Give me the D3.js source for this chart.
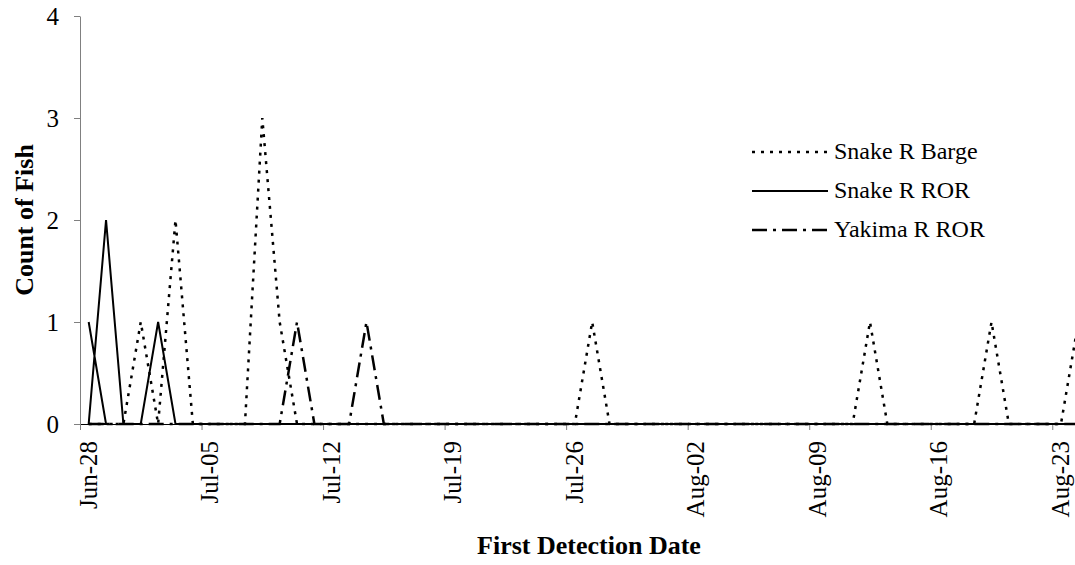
<!DOCTYPE html>
<html>
<head>
<meta charset="utf-8">
<script src="https://cdn.jsdelivr.net/npm/d3@7"></script>
<style>
  html, body { margin: 0; padding: 0; background: #fff; }
  svg { display: block; }
</style>
</head>
<body>
<div class="chart"></div>
<script>
// first detection counts per day (only the days where a line turns)
const bargeDates  = ['Jun-28', 'Jun-30', 'Jul-01', 'Jul-02', 'Jul-03', 'Jul-04', 'Jul-07', 'Jul-08', 'Jul-09', 'Jul-10',
                     'Jul-26', 'Jul-27', 'Jul-28', 'Aug-11', 'Aug-12', 'Aug-13', 'Aug-18', 'Aug-19', 'Aug-20', 'Aug-23', 'Aug-24'];
const bargeCounts = [0, 0, 1, 0, 2, 0, 0, 3, 1, 0,
                     0, 1, 0, 0, 1, 0, 0, 1, 0, 0, 1];

// rows are not in date order in the source, so the line doubles back along zero
const snakeRorDates  = ['Jun-28', 'Jun-29', 'Jun-28', 'Jun-29', 'Jun-30', 'Jul-01', 'Jul-02', 'Jul-03', 'Aug-24'];
const snakeRorCounts = [1, 0, 0, 2, 0, 0, 1, 0, 0];

const yakimaDates  = ['Jun-28', 'Jul-09', 'Jul-10', 'Jul-11', 'Jul-13', 'Jul-14', 'Jul-15', 'Aug-24'];
const yakimaCounts = [0, 0, 1, 0, 0, 1, 0, 0];

const tickLabels = ['Jun-28', 'Jul-05', 'Jul-12', 'Jul-19', 'Jul-26', 'Aug-02', 'Aug-09', 'Aug-16', 'Aug-23'];
const countTicks = [0, 1, 2, 3, 4];

const seriesNames = ['Snake R Barge', 'Snake R ROR', 'Yakima R ROR'];
const seriesDash = ['3,6', null, '15,6,3,6'];
const seriesWidth = [2.5, 2, 2.5];

const serif = '"Liberation Serif", "Times New Roman", Times, serif';

const parse = d3.utcParse('%b-%d');
const fmt = d3.utcFormat('%b-%d');

const width = 1075, height = 565;

const svg = d3.select('.chart')
  .append('svg')
  .attr('width', width)
  .attr('height', height)
  .attr('font-family', serif);

const x = d3.scaleUtc()
  .domain([parse('Jun-28'), parse('Aug-25')])
  .range([80, 1087]);

const y = d3.scaleLinear()
  .domain([0, 4])
  .range([424, 16]);

// points sit in the middle of their day slot
const xMid = d => x(d3.utcHour.offset(d, 12));

// y axis
const yAxis = svg.append('g')
  .attr('transform', 'translate(80,0)')
  .call(d3.axisLeft(y).tickValues(countTicks).tickSize(6).tickSizeOuter(0).tickPadding(15).tickFormat(d3.format('d')));
yAxis.attr('font-family', serif).attr('font-size', 25);
yAxis.select('.domain').attr('stroke', '#808080');
yAxis.selectAll('.tick line').attr('stroke', '#808080');
yAxis.selectAll('text')
  .attr('fill', '#000')
  .attr('dy', '0.33em');

// x axis
const xAxis = svg.append('g')
  .attr('transform', 'translate(0,424)')
  .call(d3.axisBottom(x).tickValues(tickLabels.map(parse)).tickSize(6).tickSizeOuter(0).tickFormat(fmt));
xAxis.attr('font-family', serif).attr('font-size', 25);
xAxis.select('.domain').attr('stroke', '#000');
xAxis.selectAll('.tick line').attr('stroke', '#808080');
xAxis.selectAll('text')
  .attr('fill', '#000')
  .attr('transform', 'rotate(-90)')
  .attr('text-anchor', 'end')
  .attr('x', -17)
  .attr('y', 16)
  .attr('dy', 0);

// lines
const series = seriesNames.map((name, i) => ({
  name,
  dates: [bargeDates, snakeRorDates, yakimaDates][i],
  counts: [bargeCounts, snakeRorCounts, yakimaCounts][i],
  dash: seriesDash[i],
  width: seriesWidth[i]
}));

const line = d3.line()
  .x(d => xMid(d.date))
  .y(d => y(d.count));

svg.append('g')
  .selectAll('path')
  .data(series)
  .enter()
  .append('path')
  .attr('fill', 'none')
  .attr('stroke', '#000')
  .attr('stroke-width', d => d.width)
  .attr('stroke-dasharray', d => d.dash)
  .attr('d', d => line(d.dates.map((t, i) => ({ date: parse(t), count: d.counts[i] }))));

// legend
const legend = svg.append('g')
  .attr('transform', 'translate(752,152)');

const items = legend.selectAll('g')
  .data(series)
  .enter()
  .append('g')
  .attr('transform', (d, i) => `translate(0, ${i * 39})`);

items.append('line')
  .attr('x1', 0)
  .attr('x2', 76)
  .attr('stroke', '#000')
  .attr('stroke-width', d => d.width)
  .attr('stroke-dasharray', d => d.dash);

items.append('text')
  .attr('x', 82)
  .attr('y', 7)
  .attr('font-family', serif)
  .attr('font-size', 24)
  .text(d => d.name);

// axis titles
svg.append('text')
  .attr('x', 589)
  .attr('y', 554)
  .attr('text-anchor', 'middle')
  .attr('font-family', serif)
  .attr('font-size', 26)
  .attr('font-weight', 'bold')
  .text('First Detection Date');

svg.append('text')
  .attr('transform', 'translate(33,220) rotate(-90)')
  .attr('text-anchor', 'middle')
  .attr('font-family', serif)
  .attr('font-size', 26)
  .attr('font-weight', 'bold')
  .text('Count of Fish');
</script>
</body>
</html>
